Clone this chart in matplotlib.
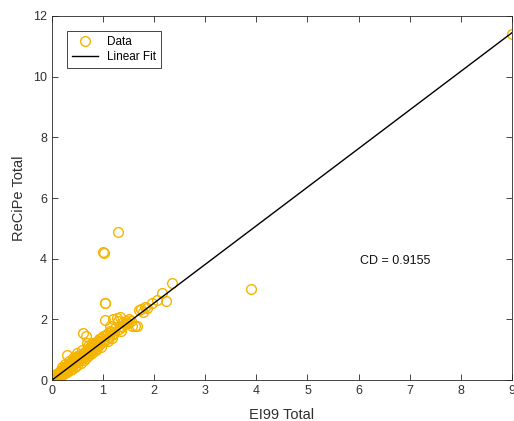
import numpy as np
import matplotlib.pyplot as plt

plt.rcParams['font.family'] = ['Liberation Sans', 'DejaVu Sans']

# EI99 vs ReCiPe totals
ei99 = [0.01, 0.02, 0.03, 0.04, 0.05, 0.06, 0.07, 0.08, 0.09, 0.10,
        0.11, 0.12, 0.13, 0.14, 0.15, 0.16, 0.17, 0.18, 0.19, 0.20,
        0.21, 0.22, 0.23, 0.24, 0.25, 0.26, 0.27, 0.28, 0.29, 0.30,
        0.31, 0.32, 0.33, 0.34, 0.35, 0.36, 0.37, 0.38, 0.39, 0.40,
        0.41, 0.42, 0.43, 0.44, 0.45, 0.46, 0.47, 0.48, 0.49, 0.50,
        0.52, 0.54, 0.55, 0.57, 0.61, 0.66, 0.68, 0.60, 0.62, 0.63,
        0.65, 0.66, 0.68, 0.70, 0.71, 0.73, 0.74, 0.75, 0.77, 0.78,
        0.80, 0.81, 0.83, 0.85, 0.86, 0.88, 0.90, 0.91, 0.93, 0.95,
        0.97, 0.98, 1.00, 1.01, 1.03, 1.04, 1.04, 1.00, 1.02, 1.05,
        1.07, 1.10, 1.12, 1.15, 1.17, 1.20, 1.22, 1.27, 1.33, 1.29,
        1.30, 1.32, 1.35, 1.38, 1.40, 1.42, 1.45, 1.48, 1.50, 1.55,
        1.57, 1.62, 1.66, 1.70, 1.75, 1.78, 1.82, 1.86, 1.95, 2.05,
        2.15, 2.24, 2.34, 3.89, 9.00,
        0.05, 0.08, 0.10, 0.13, 0.15, 0.18, 0.20, 0.23, 0.25, 0.28,
        0.30, 0.33, 0.35, 0.38, 0.40, 0.43, 0.45, 0.48, 0.50, 0.53,
        0.56, 0.58, 0.62, 0.64, 0.67, 0.70, 0.72, 0.76, 0.79, 0.84,
        0.87, 0.92, 0.96, 1.06, 1.09, 1.13, 1.18, 1.24, 1.36, 1.44,
        0.20, 0.26, 0.34, 0.42, 0.50, 0.58, 0.70, 0.78, 0.88, 1.14]
recipe = [0.02, 0.01, 0.05, 0.03, 0.08, 0.06, 0.11, 0.07, 0.14, 0.10,
          0.16, 0.13, 0.19, 0.15, 0.22, 0.18, 0.25, 0.20, 0.28, 0.24,
          0.32, 0.26, 0.35, 0.29, 0.40, 0.31, 0.42, 0.35, 0.82, 0.38,
          0.47, 0.41, 0.52, 0.44, 0.55, 0.46, 0.58, 0.47, 0.62, 0.50,
          0.65, 0.55, 0.68, 0.56, 0.72, 0.58, 0.74, 0.61, 0.78, 0.62,
          0.70, 0.66, 0.78, 0.72, 1.55, 1.45, 1.22, 0.80, 0.76, 0.88,
          0.82, 0.95, 0.85, 1.00, 0.90, 1.05, 1.02, 0.92, 1.10, 0.98,
          1.15, 1.02, 1.20, 1.08, 1.25, 1.12, 1.28, 1.15, 1.35, 1.20,
          1.40, 1.28, 4.21, 4.19, 2.55, 2.53, 1.98, 1.45, 1.30, 1.50,
          1.35, 1.55, 1.42, 1.60, 1.48, 2.00, 1.55, 2.04, 2.08, 4.89,
          1.95, 1.70, 1.80, 1.75, 1.92, 1.85, 1.95, 1.88, 2.02, 1.95,
          1.80, 1.78, 1.78, 2.30, 2.35, 2.25, 2.40, 2.38, 2.54, 2.64,
          2.86, 2.61, 3.19, 3.00, 11.40,
          0.16, 0.20, 0.05, 0.27, 0.10, 0.33, 0.16, 0.40, 0.22, 0.46,
          0.27, 0.52, 0.33, 0.60, 0.38, 0.66, 0.42, 0.72, 0.50, 0.78,
          0.58, 0.86, 0.68, 0.92, 0.74, 1.02, 0.84, 1.08, 0.90, 1.18,
          1.00, 1.26, 1.10, 1.50, 1.28, 1.62, 1.40, 1.72, 1.62, 1.90,
          0.45, 0.52, 0.62, 0.72, 0.88, 0.98, 1.12, 1.24, 1.06, 1.78]

fit_slope = 1.272
fit_intercept = 0.0
cd_value = 0.9155

fig = plt.figure(figsize=(5.14, 4.21), dpi=100)
ax = fig.add_axes([0.101, 0.097, 0.895, 0.865])

ax.plot(ei99, recipe, 'o', mfc='none', mec='#F5B400', ms=7, mew=1, label='Data')
xf = np.array([min(ei99), max(ei99)])
ax.plot(xf, fit_slope * xf + fit_intercept, 'k-', lw=1, label='Linear Fit')

ax.set_xlim(0, 9)
ax.set_ylim(0, 12)
ax.set_xticks(range(0, 10))
ax.set_yticks(range(0, 13, 2))
ax.tick_params(direction='in', top=True, right=True, length=4, width=0.6,
               colors='#262626', labelcolor='#303030', labelsize=9)
for s in ax.spines.values():
    s.set_color('#262626')
    s.set_linewidth(0.6)

ax.set_xlabel('EI99 Total', fontsize=10.5, color='#303030', labelpad=8)
ax.set_ylabel('ReCiPe Total', fontsize=10.5, color='#303030', labelpad=5)
ax.text(6.03, 3.92, 'CD = %.4f' % cd_value, fontsize=9, va='center', color='#111111')

leg = ax.legend(loc='upper left', bbox_to_anchor=(0.02, 0.975), fontsize=8.5,
                fancybox=False, edgecolor='#262626', framealpha=1,
                handlelength=2.2, borderpad=0.4, labelspacing=0.3)
leg.get_frame().set_linewidth(0.6)

plt.savefig('out.png', dpi=100)
